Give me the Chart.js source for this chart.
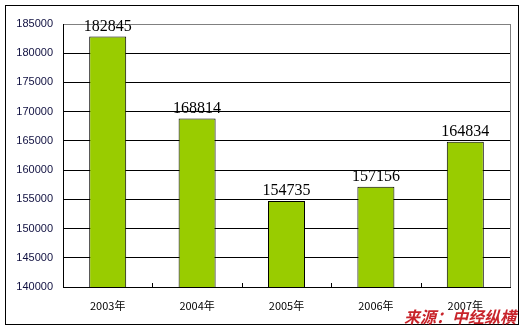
<!DOCTYPE html>
<html lang="zh">
<head>
    <meta charset="UTF-8">
    <title>2003-2007年</title>
    <style>
        html, body { margin: 0; padding: 0; background: #fff; }
        #wrap { width: 524px; height: 331px; position: relative; }
    </style>
    <script src="https://cdn.jsdelivr.net/npm/chart.js"></script>
</head>
<body>
    <div id="wrap"><canvas id="barChart" width="524" height="331"></canvas></div>

    <script>
        // data
        const years = ['2003年', '2004年', '2005年', '2006年', '2007年'];
        const values = [182845, 168814, 154735, 157156, 164834];
        const yMin = 140000, yMax = 185000, yStep = 5000;

        // frame, data labels, little tick marks and the source note
        const decorPlugin = {
            id: 'decor',
            beforeDraw(chart) {
                const ctx = chart.ctx;
                ctx.save();
                ctx.fillStyle = '#fff';
                ctx.fillRect(0, 0, chart.width, chart.height);
                ctx.restore();
            },
            afterDraw(chart) {
                const ctx = chart.ctx;
                const a = chart.chartArea;
                const xs = chart.scales.x;
                ctx.save();
                // outer frame
                ctx.strokeStyle = '#000';
                ctx.lineWidth = 1;
                ctx.strokeRect(5.5, 5.5, 513, 319);
                // plot right border (gray)
                ctx.strokeStyle = '#808080';
                ctx.beginPath();
                ctx.moveTo(Math.round(a.right) + 0.5, a.top);
                ctx.lineTo(Math.round(a.right) + 0.5, a.bottom);
                ctx.stroke();
                // tick marks between categories
                ctx.strokeStyle = '#000';
                ctx.beginPath();
                for (let i = 1; i < years.length; i++) {
                    const x = Math.round((xs.getPixelForValue(i - 1) + xs.getPixelForValue(i)) / 2) + 0.5;
                    ctx.moveTo(x, a.bottom);
                    ctx.lineTo(x, a.bottom - 4);
                }
                ctx.stroke();
                // values above bars
                const meta = chart.getDatasetMeta(0);
                ctx.fillStyle = '#000';
                ctx.font = '16px "Liberation Serif", serif';
                ctx.textAlign = 'center';
                ctx.textBaseline = 'alphabetic';
                meta.data.forEach((bar, i) => {
                    ctx.fillText(String(values[i]), bar.x, bar.y - 6);
                });
                // source
                ctx.fillStyle = '#C8242B';
                ctx.font = 'italic bold 16px "Noto Sans CJK SC", sans-serif';
                ctx.textAlign = 'right';
                ctx.textBaseline = 'middle';
                ctx.fillText('来源：中经纵横', 516, 317);
                ctx.restore();
            }
        };

        const data = {
            labels: years,
            datasets: [{
                data: values,
                backgroundColor: '#99CC00',
                borderColor: '#000',
                borderWidth: 1,
                barPercentage: 0.414,
                categoryPercentage: 1
            }]
        };

        const options = {
            responsive: false,
            animation: false,
            layout: { padding: { left: 0, top: 24, right: 14, bottom: 0 } },
            plugins: {
                legend: { display: false },
                tooltip: { enabled: false }
            },
            scales: {
                x: {
                    grid: { display: false, drawTicks: false },
                    border: { color: '#000', width: 1 },
                    ticks: {
                        padding: 12,
                        color: '#000',
                        font: { family: '"Noto Sans CJK SC", Arial, sans-serif', size: 11 }
                    },
                    afterFit(scale) { scale.height = 44; }
                },
                y: {
                    min: yMin,
                    max: yMax,
                    grid: {
                        drawTicks: false,
                        color: ctx => ctx.tick && ctx.tick.value === yMax ? '#808080' : '#000',
                        lineWidth: 1
                    },
                    border: { color: '#000', width: 1 },
                    ticks: {
                        stepSize: yStep,
                        padding: 10,
                        color: '#101040',
                        font: { family: '"Liberation Sans", Arial, sans-serif', size: 11 },
                        callback: v => String(v)
                    },
                    afterFit(scale) { scale.width = 63; }
                }
            }
        };

        Chart.register(decorPlugin);
        new Chart(document.getElementById('barChart').getContext('2d'), {
            type: 'bar',
            data: data,
            options: options
        });
    </script>
</body>
</html>
